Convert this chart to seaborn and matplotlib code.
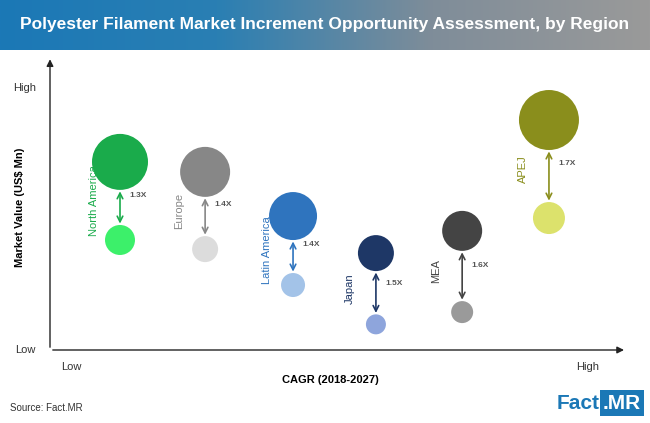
import numpy as np
import pandas as pd
import matplotlib
matplotlib.use("Agg")
import matplotlib.pyplot as plt
import seaborn as sns

plt.rcParams['font.family'] = ['Liberation Sans Narrow', 'Liberation Sans', 'DejaVu Sans']

# values (0-100 relative scale)
regions = ['North America', 'Europe', 'Latin America', 'Japan', 'MEA', 'APEJ']
cagr = [12.5, 27.7, 43.4, 58.2, 73.6, 89.1]
value_2027 = [66.0, 62.5, 47.0, 34.0, 41.8, 80.7]
value_2018 = [38.6, 35.4, 22.8, 9.0, 13.3, 46.3]
radius_2027 = [28, 25, 24, 18, 20, 30]   # bubble radius, px
radius_2018 = [15, 13, 12, 10, 11, 16]
multiples = ['1.3X', '1.4X', '1.4X', '1.5X', '1.6X', '1.7X']
dark_colors = ['#1aab4b', '#878787', '#2f74be', '#1e3766', '#444444', '#8a8e1c']
light_colors = ['#3cf06a', '#dcdcdc', '#a3c3e8', '#8ea5dc', '#9a9a9a', '#dce26c']

fig = plt.figure(figsize=(6.5, 4.23), dpi=100)

# header band
hax = fig.add_axes([0, 1 - 50 / 423, 1, 50 / 423])
grad = np.linspace(0, 1, 256).reshape(1, -1)
cmap = matplotlib.colors.LinearSegmentedColormap.from_list('h', ['#1b78b6', '#2a7fb3', '#7f8d99', '#9a9a9a'])
hax.imshow(grad, aspect='auto', cmap=cmap, extent=[0, 1, 0, 1])
hax.set_axis_off()
hax.text(0.5, 0.5, 'Polyester Filament Market Increment Opportunity Assessment, by Region',
         color='white', fontsize=12.5, fontweight='bold', ha='center', va='center')

ax = fig.add_axes([50 / 650, 73 / 423, 560 / 650, 285 / 423])
ax.set_xlim(0, 100)
ax.set_ylim(0, 100)

pt = 72 / 100  # px -> pt
df = pd.DataFrame({
    'x': cagr * 2,
    'y': value_2027 + value_2018,
    's': [(2 * r * pt) ** 2 for r in radius_2027 + radius_2018],
    'c': [f'a{i}' for i in range(6)] + [f'b{i}' for i in range(6)],
})
pal = dict(zip(df['c'], dark_colors + light_colors))
sns.scatterplot(data=df, x='x', y='y', hue='c', palette=pal, size='s',
                sizes=(df['s'].min(), df['s'].max()), legend=False,
                edgecolor='none', ax=ax, zorder=3)

for i in range(6):
    ax.annotate('', xy=(cagr[i], value_2027[i]), xytext=(cagr[i], value_2018[i]),
                arrowprops=dict(arrowstyle='<->', color=dark_colors[i], lw=1.2,
                                shrinkA=radius_2018[i] * pt + 1, shrinkB=radius_2027[i] * pt + 1),
                zorder=2)
    mid = (value_2027[i] + value_2018[i]) / 2
    ax.annotate(multiples[i], (cagr[i], mid), xytext=(7, 4), textcoords='offset points',
                fontsize=6, color='#555555', fontweight='bold', va='center')
    ax.annotate(regions[i], (cagr[i], mid), xytext=(-19, 0), textcoords='offset points',
                fontsize=8, color=dark_colors[i], rotation=90, ha='center', va='center')

ax.set_xticks([])
ax.set_yticks([])
for s in ['top', 'right', 'left', 'bottom']:
    ax.spines[s].set_visible(False)
ax.annotate('', xy=(0, 1.03), xytext=(0, 0), xycoords='axes fraction',
            arrowprops=dict(arrowstyle='-|>', color='#222222', lw=1), annotation_clip=False)
ax.annotate('', xy=(1.03, 0), xytext=(0, 0), xycoords='axes fraction',
            arrowprops=dict(arrowstyle='-|>', color='#222222', lw=1), annotation_clip=False)
ax.set_xlabel('CAGR (2018-2027)', fontsize=8, fontweight='bold', labelpad=18)
ax.set_ylabel('Market Value (US$ Mn)', fontsize=8, fontweight='bold', labelpad=18)
ax.text(-0.025, 0.92, 'High', transform=ax.transAxes, ha='right', va='center', fontsize=8, color='#333333')
ax.text(-0.025, 0.0, 'Low', transform=ax.transAxes, ha='right', va='center', fontsize=8, color='#333333')
ax.text(0.02, -0.06, 'Low', transform=ax.transAxes, ha='left', va='center', fontsize=8, color='#333333')
ax.text(0.96, -0.06, 'High', transform=ax.transAxes, ha='center', va='center', fontsize=8, color='#333333')

fig.text(10 / 650, 1 - 408 / 423, 'Source: Fact.MR', fontsize=7, color='#333333', va='center')
fig.text(600 / 650, 1 - 403 / 423, 'Fact', fontsize=15, fontweight='bold', color='#1b78b6',
         ha='right', va='center')
fig.text(603 / 650, 1 - 403 / 423, '.MR', fontsize=15, fontweight='bold', color='white',
         ha='left', va='center',
         bbox=dict(boxstyle='square,pad=0.15', fc='#1b78b6', ec='none'))

fig.savefig('out.png', dpi=100)
